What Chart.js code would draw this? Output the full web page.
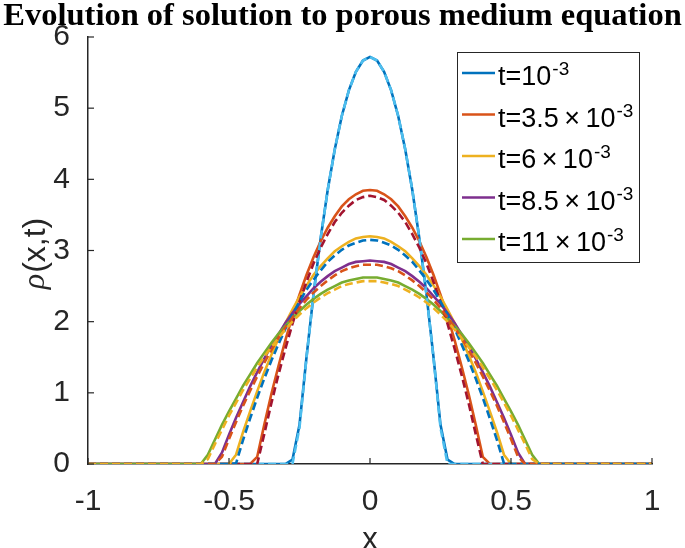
<!DOCTYPE html>
<html>
<head>
<meta charset="utf-8">
<script src="https://cdn.jsdelivr.net/npm/chart.js@4.4.0/dist/chart.umd.min.js"></script>
<style>
  html, body { margin: 0; padding: 0; background: #fff; }
  canvas { display: block; }
</style>
</head>
<body>
<canvas id="chart" width="685" height="548"></canvas>
<script>
// x grid shared by all curves
const xGrid = [-1,
  -0.6, -0.575, -0.55, -0.525, -0.5, -0.475, -0.45, -0.425, -0.4, -0.375, -0.35, -0.325,
  -0.3, -0.275, -0.25, -0.225, -0.2, -0.175, -0.15, -0.125, -0.1, -0.075, -0.05, -0.025,
  0,
  0.025, 0.05, 0.075, 0.1, 0.125, 0.15, 0.175, 0.2, 0.225, 0.25, 0.275, 0.3,
  0.325, 0.35, 0.375, 0.4, 0.425, 0.45, 0.475, 0.5, 0.525, 0.55, 0.575, 0.6,
  1];

// numerical solution (solid lines)
const num1 = [0, 0,0,0,0,0,0,0,0,0,0,0,0,0, 0.06,0.55,1.51,2.39,3.17,3.85,4.42,4.89,5.25,5.51,5.67,
  5.72, 5.67,5.51,5.25,4.89,4.42,3.85,3.17,2.39,1.51,0.55,0.06, 0,0,0,0,0,0,0,0,0,0,0,0,0, 0];
const num2 = [0, 0,0,0,0,0,0,0,0, 0.10,0.55,0.98,1.37,1.74,2.08,2.38,2.66,2.91,3.13,3.32,3.48,3.62,3.72,3.79,3.84,
  3.85, 3.84,3.79,3.72,3.62,3.48,3.32,3.13,2.91,2.66,2.38,2.08,1.74,1.37,0.98,0.55,0.10, 0,0,0,0,0,0,0,0, 0];
const num3 = [0, 0,0,0,0,0, 0.13,0.45,0.74,1.02,1.29,1.53,1.76,1.98,2.17,2.35,2.51,2.66,2.78,2.89,2.99,3.06,3.12,3.17,3.19,
  3.20, 3.19,3.17,3.12,3.06,2.99,2.89,2.78,2.66,2.51,2.35,2.17,1.98,1.76,1.53,1.29,1.02,0.74,0.45,0.13, 0,0,0,0,0, 0];
const num4 = [0, 0,0,0, 0.16,0.41,0.65,0.87,1.09,1.29,1.48,1.66,1.82,1.98,2.12,2.25,2.36,2.47,2.56,2.64,2.71,2.76,2.81,2.84,2.85,
  2.86, 2.85,2.84,2.81,2.76,2.71,2.64,2.56,2.47,2.36,2.25,2.12,1.98,1.82,1.66,1.48,1.29,1.09,0.87,0.65,0.41,0.16, 0,0,0, 0];
const num5 = [0, 0, 0.13,0.34,0.55,0.74,0.92,1.10,1.26,1.42,1.56,1.70,1.83,1.94,2.05,2.15,2.24,2.32,2.39,2.45,2.50,2.55,2.58,2.60,2.62,
  2.62, 2.62,2.60,2.58,2.55,2.50,2.45,2.39,2.32,2.24,2.15,2.05,1.94,1.83,1.70,1.56,1.42,1.26,1.10,0.92,0.74,0.55,0.34,0.13, 0, 0];

// exact solution (dashed lines)
const ex1 = [0, 0,0,0,0,0,0,0,0,0,0,0,0,0,0, 0.51,1.50,2.39,3.17,3.85,4.42,4.89,5.25,5.51,5.67,
  5.72, 5.67,5.51,5.25,4.89,4.42,3.85,3.17,2.39,1.50,0.51, 0,0,0,0,0,0,0,0,0,0,0,0,0,0, 0];
const ex2 = [0, 0,0,0,0,0,0,0,0,0, 0.42,0.85,1.25,1.62,1.97,2.28,2.56,2.82,3.04,3.23,3.40,3.53,3.63,3.71,3.75,
  3.77, 3.75,3.71,3.63,3.53,3.40,3.23,3.04,2.82,2.56,2.28,1.97,1.62,1.25,0.85,0.42, 0,0,0,0,0,0,0,0,0, 0];
const ex3 = [0, 0,0,0,0,0, 0.01,0.34,0.64,0.93,1.20,1.45,1.68,1.90,2.10,2.28,2.45,2.59,2.72,2.84,2.93,3.01,3.07,3.11,3.14,
  3.15, 3.14,3.11,3.07,3.01,2.93,2.84,2.72,2.59,2.45,2.28,2.10,1.90,1.68,1.45,1.20,0.93,0.64,0.34,0.01, 0,0,0,0,0, 0];
const ex4 = [0, 0,0,0, 0.10,0.35,0.59,0.82,1.03,1.23,1.42,1.60,1.77,1.92,2.06,2.19,2.31,2.41,2.50,2.58,2.65,2.71,2.75,2.78,2.80,
  2.80, 2.80,2.78,2.75,2.71,2.65,2.58,2.50,2.41,2.31,2.19,2.06,1.92,1.77,1.60,1.42,1.23,1.03,0.82,0.59,0.35,0.10, 0,0,0, 0];
const ex5 = [0, 0, 0.07,0.28,0.48,0.68,0.86,1.04,1.20,1.36,1.51,1.64,1.77,1.89,2.00,2.10,2.19,2.27,2.34,2.40,2.45,2.50,2.53,2.55,2.57,
  2.57, 2.57,2.55,2.53,2.50,2.45,2.40,2.34,2.27,2.19,2.10,2.00,1.89,1.77,1.64,1.51,1.36,1.20,1.04,0.86,0.68,0.48,0.28,0.07, 0, 0];

const legendBase = ["t=10", "t=3.5\u2009\u00d7\u200910", "t=6\u2009\u00d7\u200910", "t=8.5\u2009\u00d7\u200910", "t=11\u2009\u00d7\u200910"];
const legendExp = "-3";
const xTicks = [-1, -0.5, 0, 0.5, 1];
const yTicks = [0, 1, 2, 3, 4, 5, 6];

const AXIS = "#262626";
const SOLID = ["#0072BD", "#D95319", "#EDB120", "#7E2F8E", "#77AC30"];
const DASH = ["#4DBEEE", "#A2142F", "#0072BD", "#D95319", "#EDB120"];
const FONT = "'Liberation Sans', Arial, sans-serif";

function pts(ys) {
  return xGrid.map((x, i) => ({ x: x, y: ys[i] }));
}

const numSeries = [num1, num2, num3, num4, num5];
const exSeries = [ex1, ex2, ex3, ex4, ex5];

// solids drawn first, then dashed (chart.js draws low order on top)
const datasets = [];
numSeries.forEach((s, i) => datasets.push({
  label: legendBase[i], data: pts(s), borderColor: SOLID[i], borderWidth: 2.6,
  pointRadius: 0, tension: 0, fill: false, order: 9 - i
}));
exSeries.forEach((s, i) => datasets.push({
  label: "exact " + i, data: pts(s), borderColor: DASH[i], borderWidth: 2.6,
  borderDash: [8, 4], pointRadius: 0, tension: 0, fill: false, order: 4 - i
}));

// ─── titles, inward ticks, legend ───
const overlay = {
  id: "overlay",
  afterDraw(chart) {
    const ctx = chart.ctx;
    const area = chart.chartArea;
    const sx = chart.scales.x, sy = chart.scales.y;
    ctx.save();

    // inward ticks
    ctx.strokeStyle = AXIS;
    ctx.lineWidth = 1.2;
    xTicks.forEach(v => {
      const px = sx.getPixelForValue(v);
      ctx.beginPath(); ctx.moveTo(px, area.bottom); ctx.lineTo(px, area.bottom - 6); ctx.stroke();
    });
    yTicks.forEach(v => {
      const py = sy.getPixelForValue(v);
      ctx.beginPath(); ctx.moveTo(area.left, py); ctx.lineTo(area.left + 6, py); ctx.stroke();
    });

    // title
    ctx.fillStyle = "#000";
    ctx.font = "bold 32.5px 'Liberation Serif', serif";
    ctx.textAlign = "center";
    ctx.textBaseline = "alphabetic";
    ctx.fillText("Evolution of solution to porous medium equation", 342.5, 25);

    // y label  rho(x,t)
    ctx.save();
    ctx.translate(36, 254);
    ctx.rotate(-Math.PI / 2);
    ctx.fillStyle = AXIS;
    ctx.textBaseline = "middle";
    ctx.textAlign = "left";
    ctx.font = "italic 32px 'Liberation Serif', serif";
    const wr = ctx.measureText("\u03c1").width;
    ctx.font = "32px " + FONT;
    const wp = ctx.measureText("(x,t)").width;
    const x0 = -(wr + wp) / 2;
    ctx.font = "italic 32px 'Liberation Serif', serif";
    ctx.fillText("\u03c1", x0, 0);
    ctx.font = "32px " + FONT;
    ctx.fillText("(x,t)", x0 + wr + 1, 0);
    ctx.restore();

    // legend
    const L = 457, T = 52, R = 639, B = 262;
    ctx.fillStyle = "#fff";
    ctx.fillRect(L, T, R - L, B - T);
    ctx.strokeStyle = AXIS;
    ctx.lineWidth = 1;
    ctx.strokeRect(L + 0.5, T + 0.5, R - L, B - T);
    ctx.textAlign = "left";
    ctx.textBaseline = "alphabetic";
    legendBase.forEach((txt, i) => {
      const y = 73 + 41.5 * i;
      ctx.strokeStyle = SOLID[i];
      ctx.lineWidth = 2.6;
      ctx.beginPath(); ctx.moveTo(462, y); ctx.lineTo(495, y); ctx.stroke();
      ctx.fillStyle = "#000";
      ctx.font = "27px " + FONT;
      ctx.fillText(txt, 498, y + 12);
      const w = ctx.measureText(txt).width;
      ctx.font = "19px " + FONT;
      ctx.fillText(legendExp, 498 + w + 1, y + 2);
    });

    ctx.restore();
  }
};

new Chart(document.getElementById("chart").getContext("2d"), {
  type: "line",
  data: { datasets: datasets },
  options: {
    responsive: false,
    devicePixelRatio: 1,
    animation: false,
    layout: { padding: { top: 37, right: 33, left: 0, bottom: 0 } },
    plugins: { legend: { display: false }, tooltip: { enabled: false }, title: { display: false } },
    scales: {
      x: {
        type: "linear", min: -1, max: 1,
        afterBuildTicks: s => { s.ticks = xTicks.map(v => ({ value: v })); },
        afterFit: s => { s.height = 84; s.paddingLeft = 0; s.paddingRight = 0; },
        ticks: { color: AXIS, font: { family: FONT, size: 30 }, padding: 12, maxRotation: 0,
                 callback: v => String(v) },
        grid: { display: false },
        border: { display: true, color: AXIS, width: 1.5 },
        title: { display: true, text: "x", color: AXIS, font: { family: FONT, size: 31, lineHeight: 0.5 }, padding: 0 }
      },
      y: {
        min: 0, max: 6,
        afterBuildTicks: s => { s.ticks = yTicks.map(v => ({ value: v })); },
        afterFit: s => { s.width = 88; s.paddingTop = 0; s.paddingBottom = 0; },
        ticks: { color: AXIS, font: { family: FONT, size: 30 }, padding: 10, callback: v => String(v) },
        grid: { display: false },
        border: { display: true, color: AXIS, width: 1.5 }
      }
    }
  },
  plugins: [overlay]
});
</script>
</body>
</html>
